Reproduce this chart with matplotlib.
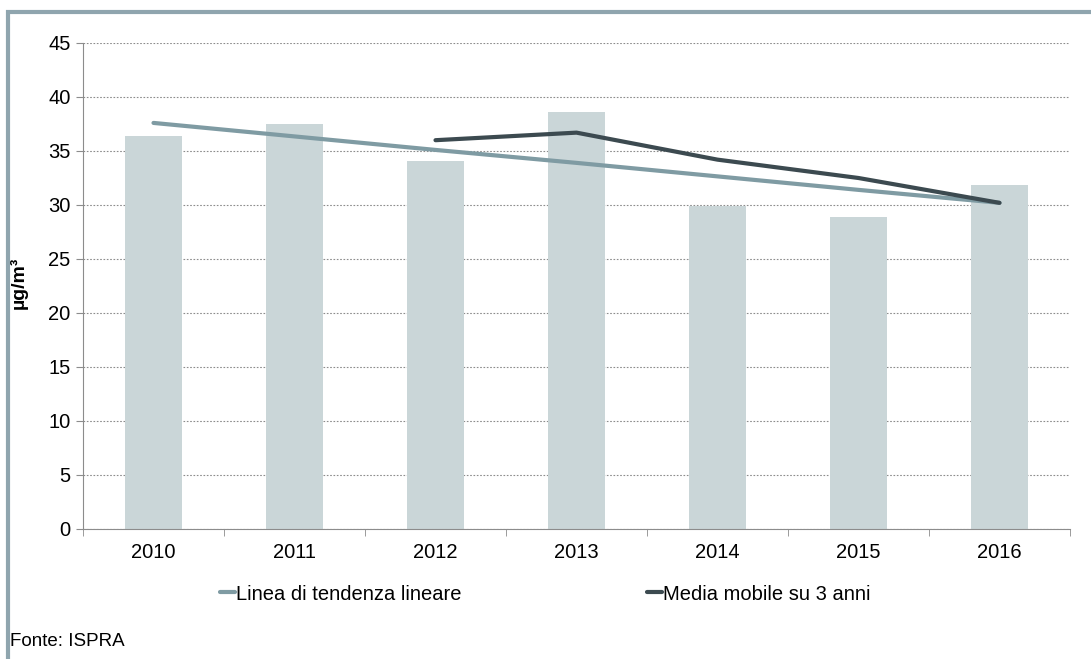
import matplotlib.pyplot as plt
import numpy as np
from matplotlib.patches import Rectangle

plt.rcParams['font.family'] = ['Liberation Sans', 'DejaVu Sans']

anni = ["2010", "2011", "2012", "2013", "2014", "2015", "2016"]
valori = [36.4, 37.5, 34.1, 38.6, 29.9, 28.9, 31.85]
tendenza = [37.6, 36.35, 35.1, 33.9, 32.65, 31.4, 30.2]
media_anni = ["2012", "2013", "2014", "2015", "2016"]
media_mobile = [36.0, 36.7, 34.2, 32.5, 30.2]

fig = plt.figure(figsize=(10.91, 6.59), dpi=100)
ax = fig.add_axes([83/1091, 1 - 529/659, (1070-83)/1091, (529-43)/659])

x = np.arange(len(anni))
ax.bar(x, valori, width=0.4, color="#cad6d8", zorder=2)
ax.plot(x, tendenza, color="#7f9ba3", lw=3, solid_capstyle="round", zorder=3,
        label="Linea di tendenza lineare")
xm = [anni.index(a) for a in media_anni]
ax.plot(xm, media_mobile, color="#3c4a50", lw=3, solid_capstyle="round", zorder=4,
        label="Media mobile su 3 anni")

ax.set_xlim(-0.5, len(anni) - 0.5)
ax.set_ylim(0, 45)
ax.set_yticks(range(0, 46, 5))
ax.yaxis.grid(True, linestyle=(0, (1.5, 1.5)), color="#8c8c8c", lw=0.8)
ax.set_axisbelow(True)

ax.set_xticks(x)
ax.set_xticklabels(anni)
ax.set_xticks(np.arange(-0.5, len(anni)), minor=True)
ax.tick_params(axis="x", which="major", length=0, labelsize=14.5, pad=10)
ax.tick_params(axis="x", which="minor", length=5, color="#8c8c8c")
ax.tick_params(axis="y", length=5, color="#8c8c8c", labelsize=14.5, pad=4)

for s in ["top", "right"]:
    ax.spines[s].set_visible(False)
ax.spines["left"].set_color("#8c8c8c")
ax.spines["bottom"].set_color("#8c8c8c")

ax.set_ylabel("µg/m³", fontsize=14, fontweight="bold")
ax.yaxis.set_label_coords(-0.056, 0.506)

leg = fig.legend(loc="center", bbox_to_anchor=(0.5, 1 - 594/659), ncol=2,
                 frameon=False, fontsize=14.5, handlelength=0.75, handletextpad=0.05,
                 columnspacing=9.2)

fig.text(10/1091, 1 - 641/659, "Fonte: ISPRA",
         family=['Liberation Sans Narrow', 'Liberation Sans', 'DejaVu Sans'],
         fontsize=13.5, va="center")

fig.patches.append(Rectangle((8/1091, -0.05), 1.2, 1 - 12/659 + 0.05,
                             transform=fig.transFigure, fill=False,
                             edgecolor="#8fa5ae", lw=3))

fig.savefig("out.png", dpi=100)
